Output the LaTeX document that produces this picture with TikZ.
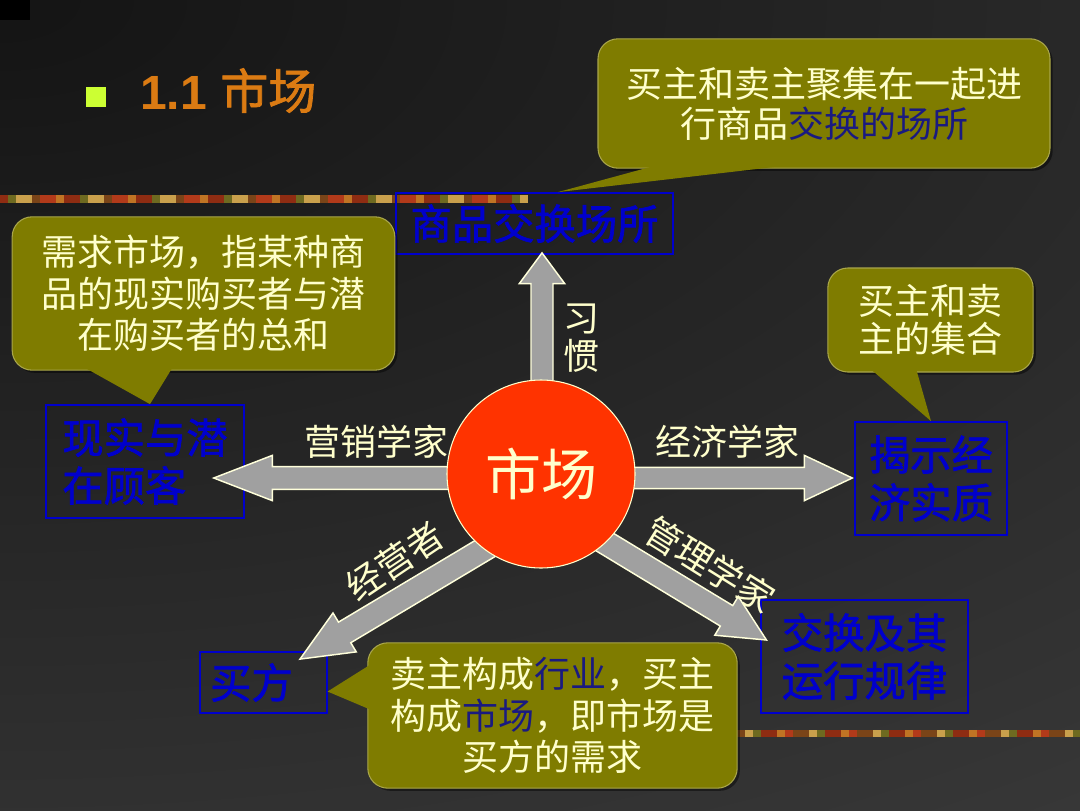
\documentclass[tikz,border=0pt]{standalone}
\usepackage{fontspec}
\setmainfont{Liberation Sans}
\newfontfamily\cjk{Noto Sans CJK SC}
\newfontfamily\cjkb[FakeBold=1.6]{Noto Sans CJK SC}
\usetikzlibrary{calc,shadows}
\definecolor{olv}{HTML}{7F7C00}
\definecolor{olvedge}{HTML}{A9A64A}
\definecolor{cream}{HTML}{FFFFCC}
\definecolor{bbox}{HTML}{0000CC}
\definecolor{navy}{HTML}{1A1A80}
\definecolor{arrowgray}{HTML}{A0A0A0}
\definecolor{circ}{HTML}{FF3300}
\definecolor{titleor}{HTML}{DB7B13}
\definecolor{bullet}{HTML}{CCFF33}
\definecolor{bgdark}{HTML}{141414}
\definecolor{bglight}{HTML}{505050}
\definecolor{strip0}{HTML}{C07424}
\definecolor{strip1}{HTML}{8E2C12}
\definecolor{strip2}{HTML}{6E6A20}
\definecolor{strip3}{HTML}{C9A04C}
\definecolor{strip4}{HTML}{7A4418}
\definecolor{strip5}{HTML}{B23A1A}
\newcommand\fs[2]{\fontsize{#1}{#2}\selectfont}
% block arrow: #1 start, #2 tip, #3 shaft half width, #4 head half width, #5 head length
\newcommand\blockarr[5]{%
  \path ($(#2)!#5!(#1)$) coordinate (hb);
  \draw[barrow] ($(#1)!#3!90:(#2)$) -- ($(hb)!#3!90:(#2)$) -- ($(hb)!#4!90:(#2)$) -- (#2)
     -- ($(hb)!#4!-90:(#2)$) -- ($(hb)!#3!-90:(#2)$) -- ($(#1)!#3!-90:(#2)$) -- cycle;}
\tikzset{
  callout/.style={rounded corners=15pt, fill=olv, draw=olvedge, line width=0.8pt,
    text=cream, align=center, inner sep=0pt, font=\cjk\fs{27pt}{30pt},
    drop shadow={shadow xshift=2pt, shadow yshift=-2pt, opacity=0.45, fill=black}},
  bluebox/.style={draw=bbox, line width=1.1pt, text=bbox, align=left, inner sep=0pt,
    font=\cjkb\fs{31pt}{36pt}},
  barrow/.style={fill=arrowgray, draw=cream!70!white, line width=1.1pt, line join=miter},
  lbl/.style={text=cream, font=\cjk\fs{27pt}{28pt}, inner sep=0pt},
}
\begin{document}
\begin{tikzpicture}[x=0.75pt,y=-0.75pt]
\useasboundingbox (0,0) rectangle (1080,810);
% background
\begin{scope}
\clip (0,0) rectangle (1080,810);
\fill[bglight] (0,0) rectangle (1080,810);
\shade[inner color=bgdark, outer color=bglight] (0,0) ellipse [x radius=2400pt, y radius=1275pt];
\fill[black] (0,0) rectangle (30,20);
\end{scope}
% decorative strips
\foreach \i in {0,...,65} {
  \pgfmathtruncatemacro\k{mod(\i*7+int(\i/3)*5+1,6)}
  \fill[strip\k] (\i*8,195) rectangle ++(8,8);
}
\foreach \i in {0,...,42} {
  \pgfmathtruncatemacro\k{mod(\i*5+int(\i/4)*7+4,6)}
  \fill[strip\k] (737+\i*8,730) rectangle ++(8,7);
}
% title
\node[fill=bullet, minimum size=15pt, inner sep=0pt] (bul) at (96,97) {};
\node[anchor=base west, text=titleor, inner sep=0pt, font=\fs{36pt}{40pt}] (title) at (140,109) {\textbf{1.1} {\cjkb 市场}};

% blue boxes
\node[bluebox, minimum width=208pt, minimum height=46pt] (goods) at (534.5,223.5) {商品交换场所};
\node[bluebox, minimum width=148.5pt, minimum height=85pt] (cust) at (145,461.5) {现实与潜\\在顾客};
\node[bluebox, minimum width=114pt, minimum height=85pt] (econ) at (931,478.5) {揭示经\\济实质};
\node[bluebox, minimum width=155pt, minimum height=85pt] (law) at (864.5,656.5) {交换及其\\运行规律};
\node[bluebox, minimum width=95pt, minimum height=46pt] (buyer) at (263.5,682.5) {买方\hspace*{18pt}};

% callouts
\node[callout, minimum width=339pt, minimum height=97pt] (cA) at (824,103.5)
  {买主和卖主聚集在一起进\\行商品\textcolor{navy}{交换的场所}};
\fill[olv] (goods.north -| 558,0) -- ($(cA.south)+(-169,-3)$) -- ($(cA.south)+(-39,-3)$) -- cycle;

\node[callout, minimum width=287pt, minimum height=115pt, font=\cjk\fs{27pt}{31pt}] (cB) at (203.5,293.5)
  {需求市场，指某种商\\品的现实购买者与潜\\在购买者的总和};
\fill[olv] ($(cust.north)+(5,0)$) -- ($(cB.south)+(-120.5,-4)$) -- ($(cB.south)+(-30.5,-4)$) -- cycle;

\node[callout, minimum width=154pt, minimum height=78pt, font=\cjk\fs{27pt}{28.5pt}] (cC) at (930.5,320)
  {买主和卖\\主的集合};
\fill[olv] (econ.north) -- ($(cC.south)+(-60.5,-4)$) -- ($(cC.south)+(-14.5,-4)$) -- cycle;

\node[callout, minimum width=277pt, minimum height=109pt, font=\cjk\fs{27pt}{31pt}] (cD) at (552.5,715.5)
  {卖主构成\textcolor{navy}{行业}，买主\\构成\textcolor{navy}{市场}，即市场是\\买方的需求};
\fill[olv] ($(buyer.east)+(0,9)$) -- ($(cD.west)+(4,-51.5)$) -- ($(cD.west)+(4,-5.5)$) -- cycle;

% arrow anchor points
\coordinate (mc) at (541,474);
\coordinate (sU) at ($(mc)+(1,-50)$);
\coordinate (tU) at ($(goods.south)+(7.5,-2)$);
\coordinate (sL) at ($(mc)+(-40,4)$);
\coordinate (tL) at ($(cust.east)+(-31,16.5)$);
\coordinate (sR) at ($(mc)+(40,4)$);
\coordinate (tR) at ($(econ.west)+(-2,-0.5)$);
\coordinate (sDL) at ($(mc)+(-35,62)$);
\coordinate (tDL) at ($(buyer.north)+(36.5,8)$);
\coordinate (sDR) at ($(mc)+(29,47)$);
\coordinate (tDR) at ($(law.west)+(6,-16.5)$);
\blockarr{sU}{tU}{8.25pt}{17pt}{23pt}
\blockarr{sL}{tL}{8.5pt}{17pt}{44pt}
\blockarr{sR}{tR}{8pt}{17pt}{36pt}
\blockarr{sDL}{tDL}{9pt}{17pt}{39pt}
\blockarr{sDR}{tDR}{9pt}{17pt}{35pt}

% center circle
\node[circle, fill=circ, draw=cream, line width=0.8pt, minimum size=141pt, inner sep=0pt,
  text=cream, font=\cjk\fs{42pt}{44pt}] (mkt) at (mc) {市场};

% arrow labels
\node[lbl, align=center] (l1) at (581,338) {习\\惯};
\node[lbl] (l2) at (376,442) {营销学家};
\node[lbl] (l3) at (727,442) {经济学家};
\node[lbl, rotate=34] (l4) at (395,561) {经营者};
\node[lbl, rotate=-32] (l5) at (710,565) {管理学家};
\end{tikzpicture}
\end{document}
